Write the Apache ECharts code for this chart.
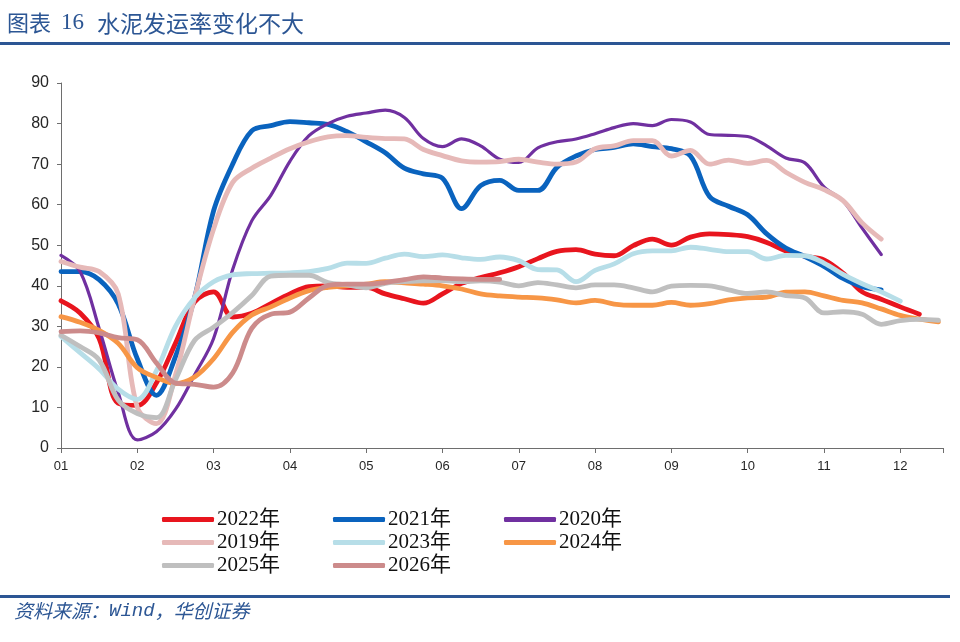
<!DOCTYPE html>
<html>
<head>
<meta charset="utf-8">
<script src="https://cdn.jsdelivr.net/npm/echarts@6/dist/echarts.min.js"></script>
<style>
html,body{margin:0;padding:0;background:#fff;}
#chart{width:960px;height:642px;}
</style>
</head>
<body>
<div id="chart"></div>
<script>
// x positions in months (0 = "01"), one point per week
const xs = [0,0.25,0.5,0.75,1,1.25,1.5,1.75,2,2.25,2.5,2.75,3,3.25,3.5,3.75,4,4.25,4.5,4.75,5,5.25,5.5,5.75,6,6.25,6.5,6.75,7,7.25,7.5,7.75,8,8.25,8.5,8.75,9,9.25,9.5,9.75,10,10.25,10.5,10.75,11,11.25,11.5];
const xLabels = ['01','02','03','04','05','06','07','08','09','10','11','12'];

const s2022 = [36.3,33.3,27,11,10.5,16,25.8,36,38.5,32.3,33.2,35.6,38,39.8,40,39.6,39.6,38,36.8,35.7,38,40.6,42,43.2,44.7,46.7,48.5,48.9,47.8,47.4,49.9,51.5,50,52,52.8,52.6,52.1,50.7,48.6,47.3,46.4,43.1,38.5,36.7,34.8,33,null];
const s2021 = [43.5,43.5,41.5,35.5,22,13,22.5,37,58.5,70,78.2,79.5,80.5,80.2,79.8,78,75.5,72.8,69,67.6,66.5,59,64.7,66,63.5,63.5,69.2,72,73.6,74.1,75,74.3,73.8,72,62,59.6,57.5,52.8,49.3,47.2,44.8,41.8,39.8,39,null,null,null];
const s2020 = [47.5,43.5,29.5,13.7,2,4,9.5,18,27,44,56,62.3,70.7,77,80,81.8,82.6,83.3,81.5,76.3,74.3,76.2,74.5,71.2,70.4,74,75.5,76.2,77.5,79,80,79.5,81,80.4,77.3,77.1,76.8,74.5,71.5,70.3,64.4,60.9,54.2,47.7,null,null,null];
const s2019 = [46,44.6,43.5,38,10,6,18,37,54,65.5,69,71.5,73.8,75.5,76.7,77,76.6,76.3,76.2,73.6,72.1,70.8,70.5,70.6,71.2,70.5,70,70.5,73.8,74.5,75.8,75.8,72,73.4,70,71,70.2,70.9,68,65.5,63.7,61,55.5,51.5,null,null,null];
const s2023 = [27.5,23.5,19.5,14.5,12,19,30,37,41,42.7,43,43.1,43.2,43.5,44.3,45.6,45.5,46.8,47.8,47.2,47.6,46.9,46.5,47.1,46.2,44,43.9,41,43.8,45.4,47.9,48.6,48.6,49.5,49,48.4,48.4,46.6,47.5,47.4,45.6,42.8,40.5,38.5,36.2,null,null];
const s2024 = [32.4,31,29,25.8,19.8,17.4,15.9,17.5,22,28.5,32.8,34.8,37,38.8,39.6,40,40.4,41,40.7,40.4,40,39.2,38,37.5,37.2,37,36.5,35.8,36.4,35.5,35.2,35.2,35.9,35.2,35.6,36.5,37,37.2,38.4,38.5,37.5,36.4,35.8,34.3,32.7,31.8,31.1];
const s2025 = [27.8,25,21.7,11.8,8.5,7.5,16.8,26.5,29.8,33.4,37.6,42.4,42.6,42.6,40.8,40.2,39.5,40.6,41,41.2,41.3,41,41.2,40.9,40,40.8,40.2,39.5,40.2,40.2,39.5,38.5,39.9,40.1,40,39,38.1,38.5,37.6,37,33.3,33.6,33,30.5,31.4,31.7,31.5];
const s2026 = [28.7,28.9,28.4,27.2,26.7,21,16,15.7,15,18.5,29.5,33,33.5,37,40.1,40.4,40.4,40.8,41.5,42.2,41.9,41.7,41.6,41.6,null,null,null,null,null,null,null,null,null,null,null,null,null,null,null,null,null,null,null,null,null,null,null];

const names = ['2022年','2021年','2020年','2019年','2023年','2024年','2025年','2026年'];
const values = [s2022,s2021,s2020,s2019,s2023,s2024,s2025,s2026];
const colors = ['#E8151E','#0A63BE','#7030A0','#E6B9B8','#B7DEE8','#F79646','#BFBFBF','#CC8B8B'];
const widths = [4.8,4.8,3.2,4.8,4.8,4.8,4.8,4.8];

const chart = echarts.init(document.getElementById('chart'), null, {renderer:'canvas'});

const series = names.map((n,k)=>({
  name:n, type:'line', smooth:0.35, symbol:'none', showSymbol:false, connectNulls:false,
  data: xs.map((x,i)=>[x, values[k][i]]),
  lineStyle:{color:colors[k], width:widths[k], cap:'round', join:'round'},
  itemStyle:{color:colors[k]},
  emphasis:{disabled:true},
  z: 2 + k
}));

const legendBase = {
  left:162, orient:'horizontal', icon:'roundRect', itemWidth:52, itemHeight:5,
  itemGap:53, padding:0, selectedMode:false,
  textStyle:{fontFamily:"'Liberation Serif','Noto Sans CJK SC',serif", fontSize:21, color:'#111', padding:[0,0,0,-2]}
};

const blue = '#2C5694';
chart.setOption({
  animation:false,
  backgroundColor:'#fff',
  grid:{left:61, right:17, top:83, bottom:194, containLabel:false},
  xAxis:{
    type:'value', min:0, max:11.56, interval:1,
    axisLine:{show:true, lineStyle:{color:'#6e6e6e', width:1}},
    axisTick:{show:true, length:5, inside:false, lineStyle:{color:'#6e6e6e'}},
    splitLine:{show:false},
    axisLabel:{margin:12, fontSize:13, color:'#262626', fontFamily:"'Liberation Sans',Arial,sans-serif",
      formatter:(v)=>{const i=Math.round(v); return (Math.abs(v-i)<1e-6 && xLabels[i])?xLabels[i]:'';}}
  },
  yAxis:{
    type:'value', min:0, max:90, interval:10,
    axisLine:{show:true, lineStyle:{color:'#6e6e6e', width:1}},
    axisTick:{show:true, length:4, inside:false, lineStyle:{color:'#6e6e6e'}},
    splitLine:{show:false},
    axisLabel:{margin:12, fontSize:16, color:'#262626', fontFamily:"'Liberation Sans',Arial,sans-serif"}
  },
  legend:[
    Object.assign({}, legendBase, {top:509, data:['2022年','2021年','2020年']}),
    Object.assign({}, legendBase, {top:532, data:['2019年','2023年','2024年']}),
    Object.assign({}, legendBase, {top:555, data:['2025年','2026年']})
  ],
  graphic:[
    {type:'text', left:7, top:12, style:{text:'图表', fill:blue, font:"22px 'Noto Sans CJK SC', sans-serif"}},
    {type:'text', left:61, top:11, style:{text:'16', fill:blue, font:"23px 'Liberation Serif', serif"}},
    {type:'text', left:97, top:12, style:{text:'水泥发运率变化不大', fill:blue, font:"23px 'Noto Sans CJK SC', sans-serif"}},
    {type:'rect', shape:{x:0, y:42, width:950, height:3}, style:{fill:blue}},
    {type:'rect', shape:{x:0, y:595, width:950, height:3}, style:{fill:blue}},
    {type:'text', left:14, top:601, style:{
      text:'{c|资料来源：}{m|Wind}{c|，华创证券}',
      rich:{
        c:{fill:blue, font:"italic 19px 'Noto Sans CJK SC', sans-serif"},
        m:{fill:blue, font:"italic 19px 'Liberation Mono', monospace"}
      }}}
  ],
  series: series
});
</script>
</body>
</html>
